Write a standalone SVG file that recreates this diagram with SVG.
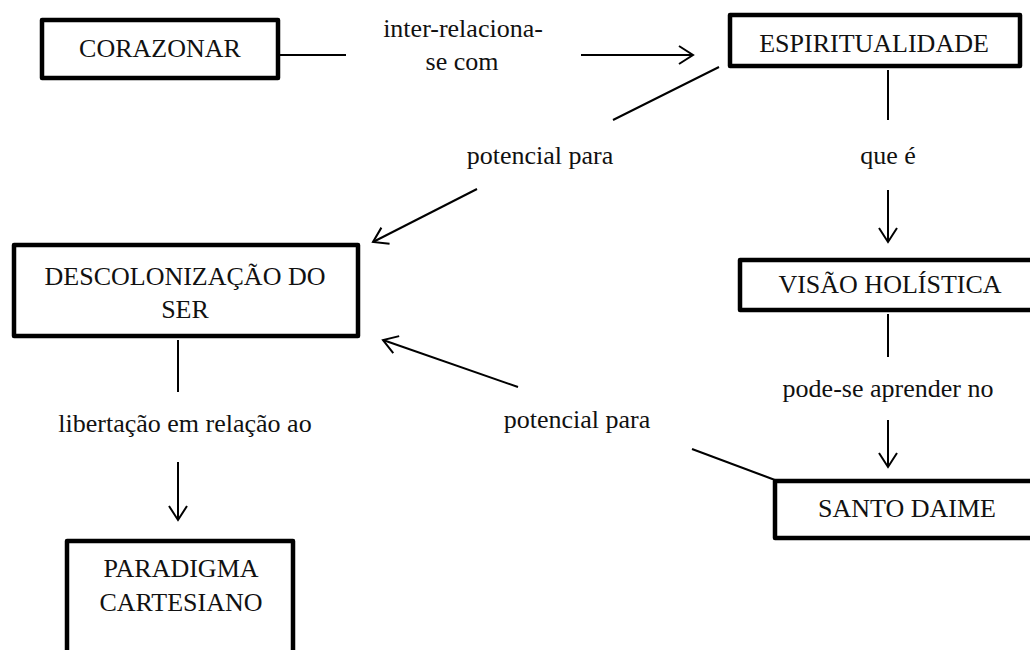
<svg xmlns="http://www.w3.org/2000/svg" width="1030" height="650" viewBox="0 0 1030 650">
<style>
.box{fill:#fff;stroke:#000;stroke-width:4.5;stroke-linejoin:round}
text{font-family:'Liberation Serif',serif;font-size:26px;fill:#111;text-anchor:middle}
.c{stroke:#000;stroke-width:2;fill:none}
</style>
<defs>
<marker id="ah" markerUnits="userSpaceOnUse" markerWidth="24" markerHeight="24" refX="16" refY="10" orient="auto" viewBox="0 0 24 20">
<path d="M2,1 L16,10 L2,19" fill="none" stroke="#000" stroke-width="2"/>
</marker>
</defs>
<rect width="1030" height="650" fill="#fff"/>
<g id="connectors">
<line class="c" x1="280" y1="55" x2="346" y2="55"/>
<line class="c" x1="581" y1="55" x2="693" y2="55" marker-end="url(#ah)"/>
<line class="c" x1="719" y1="67" x2="613" y2="120"/>
<line class="c" x1="477" y1="189" x2="373" y2="242" marker-end="url(#ah)"/>
<line class="c" x1="888" y1="70" x2="888" y2="120"/>
<line class="c" x1="888" y1="190" x2="888" y2="242" marker-end="url(#ah)"/>
<line class="c" x1="888" y1="314" x2="888" y2="357"/>
<line class="c" x1="888" y1="420" x2="888" y2="467" marker-end="url(#ah)"/>
<line class="c" x1="178" y1="340" x2="178" y2="392"/>
<line class="c" x1="178" y1="462" x2="178" y2="520" marker-end="url(#ah)"/>
<line class="c" x1="518" y1="387" x2="383" y2="340" marker-end="url(#ah)"/>
<line class="c" x1="692" y1="449" x2="775" y2="480"/>
<text x="463" y="37">inter-relaciona-</text>
<text x="462" y="70">se com</text>
<text x="540" y="164">potencial para</text>
<text x="888" y="164">que é</text>
<text x="888" y="397">pode-se aprender no</text>
<text x="185" y="432">libertação em relação ao</text>
<text x="577" y="428">potencial para</text>
</g>
<g id="corazonar">
<rect class="box" x="42" y="20" width="236" height="58"/>
<text x="160" y="57">CORAZONAR</text>
</g>
<g id="espiritualidade">
<rect class="box" x="730" y="15" width="290" height="51"/>
<text x="874" y="52">ESPIRITUALIDADE</text>
</g>
<g id="visao">
<rect class="box" x="740" y="260" width="300" height="50"/>
<text x="890" y="293">VISÃO HOLÍSTICA</text>
</g>
<g id="santo-daime">
<rect class="box" x="775" y="481" width="300" height="57"/>
<text x="907" y="517">SANTO DAIME</text>
</g>
<g id="descolonizacao">
<rect class="box" x="14" y="245" width="344" height="91"/>
<text x="185" y="285">DESCOLONIZAÇÃO DO</text>
<text x="185" y="318">SER</text>
</g>
<g id="paradigma">
<rect class="box" x="67" y="541" width="226" height="200"/>
<text x="181" y="577">PARADIGMA</text>
<text x="181" y="611">CARTESIANO</text>
</g>
</svg>
